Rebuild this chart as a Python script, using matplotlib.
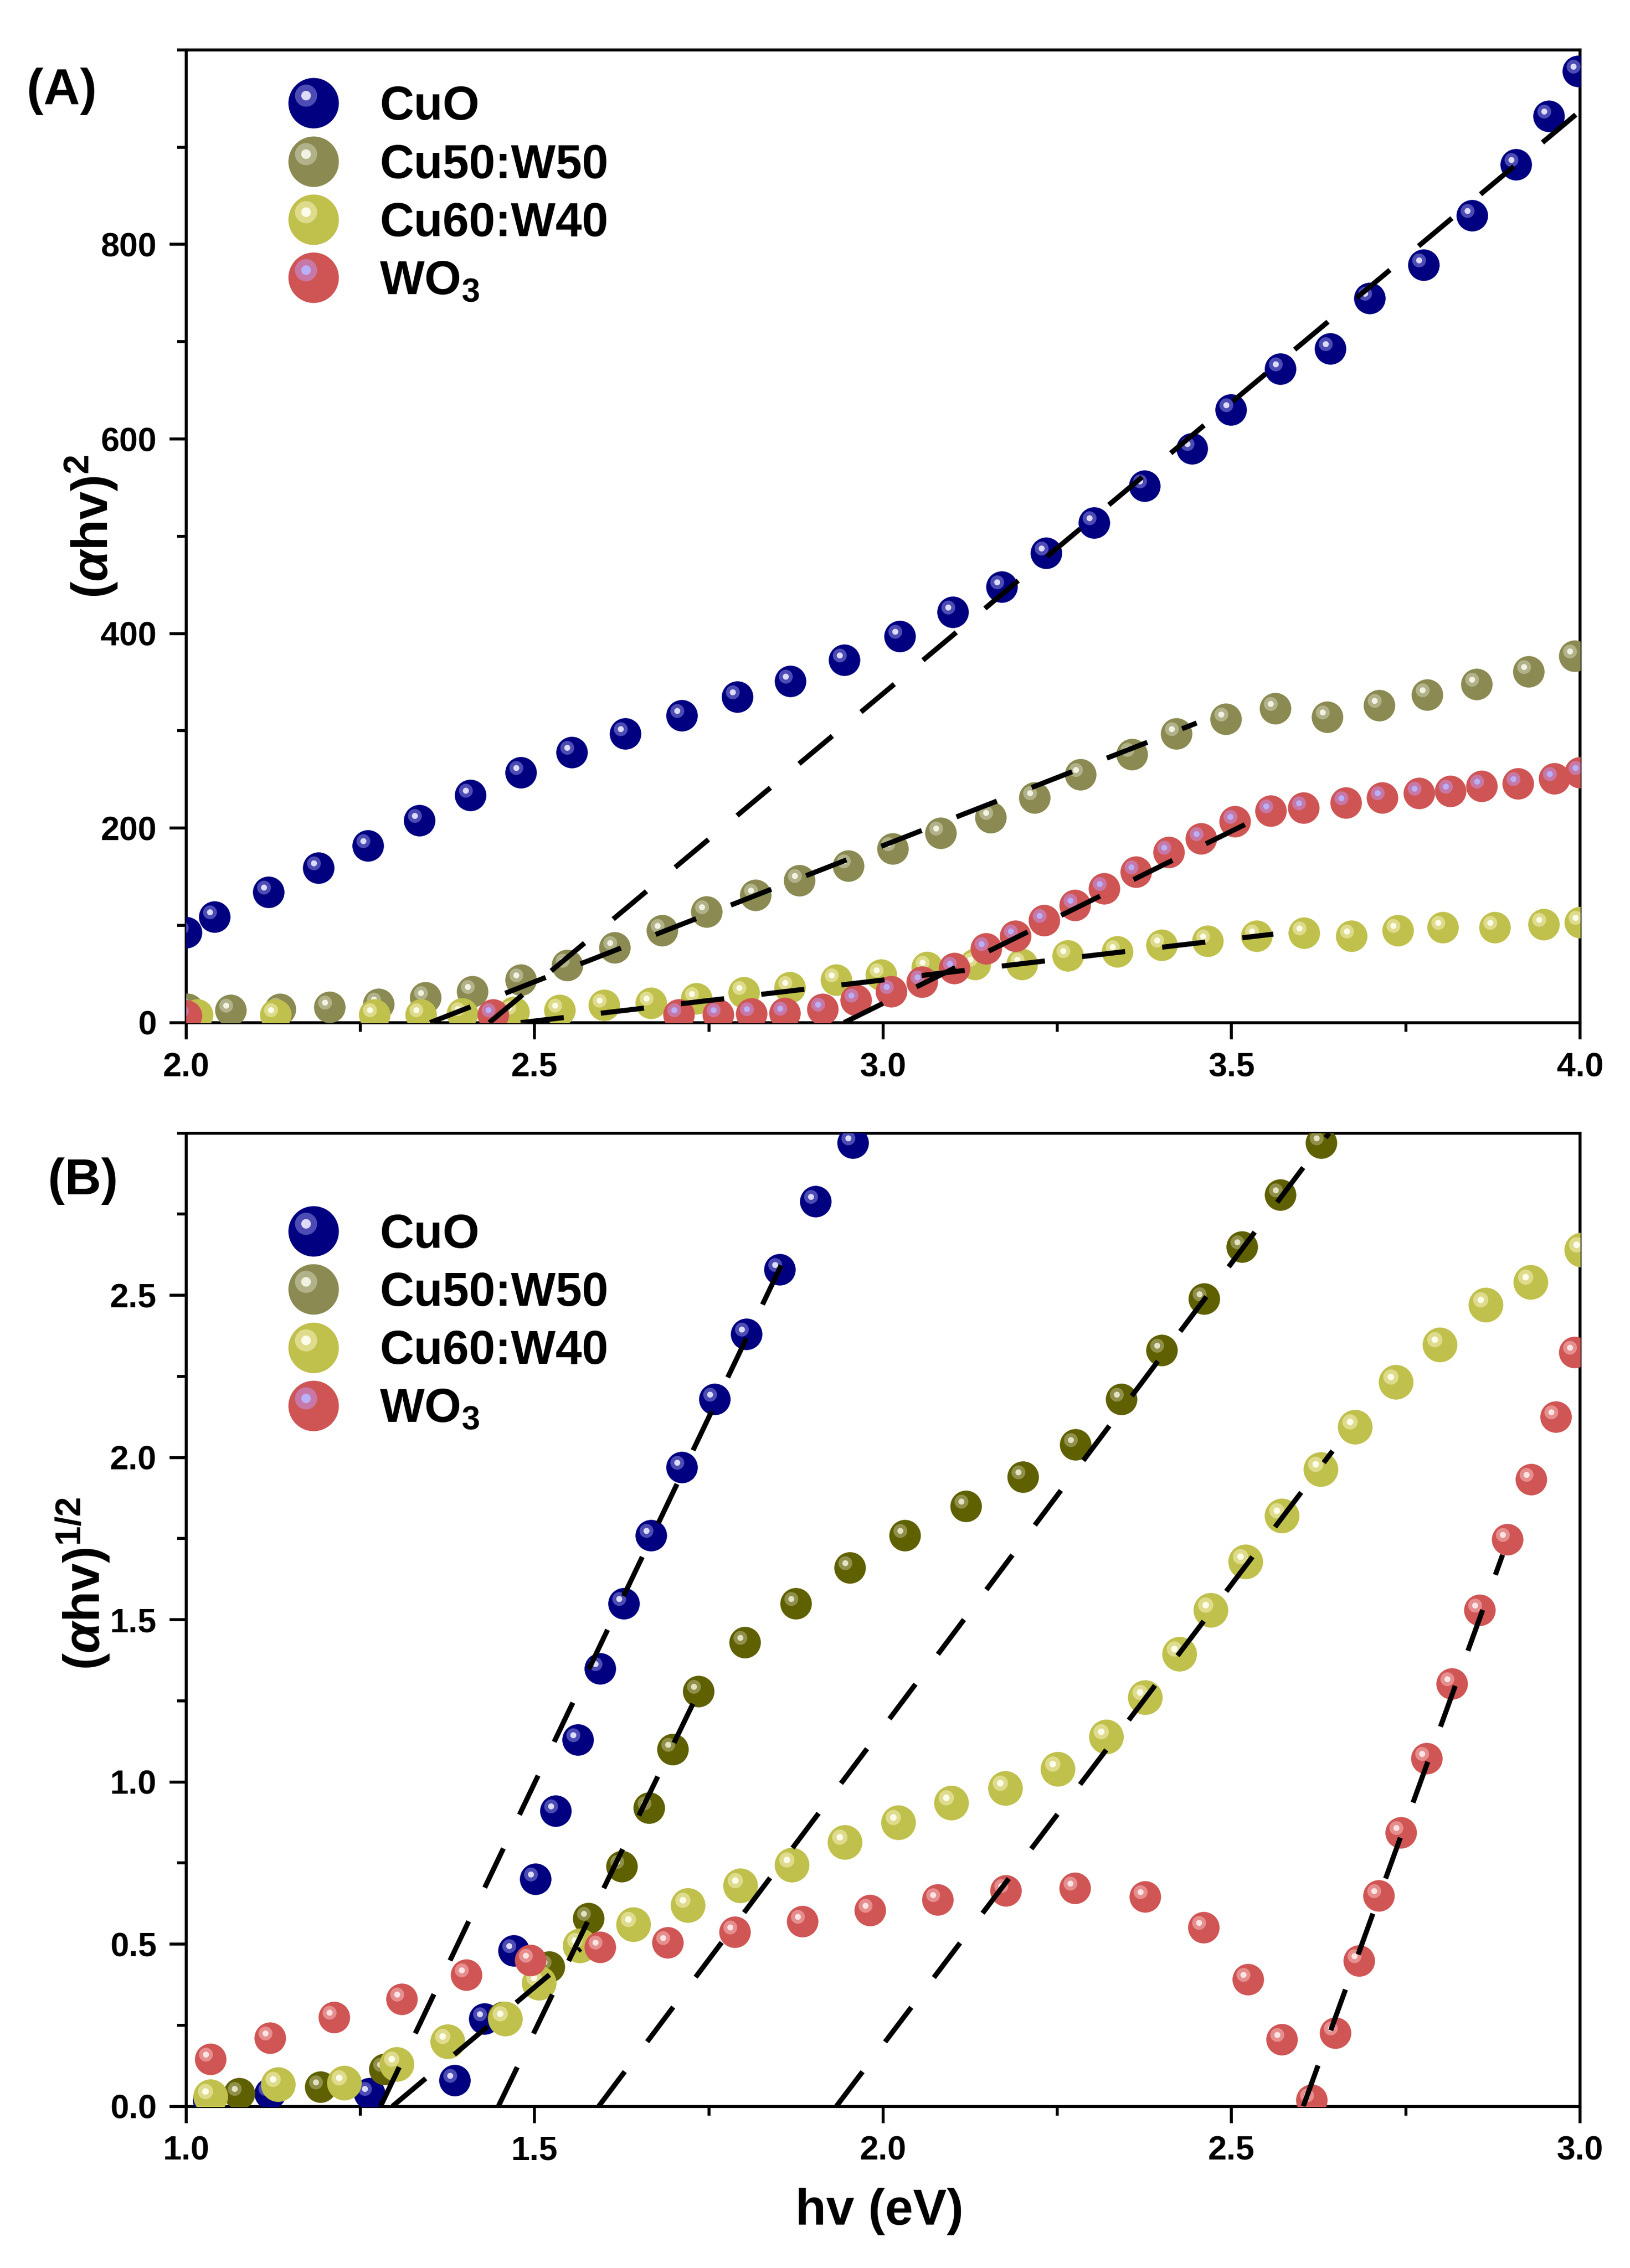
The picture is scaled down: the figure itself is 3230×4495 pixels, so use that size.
import numpy as np
import matplotlib
matplotlib.use("Agg")
import matplotlib.pyplot as plt
from matplotlib.path import Path
from matplotlib.lines import Line2D
from matplotlib.legend_handler import HandlerTuple
from matplotlib.ticker import MultipleLocator, FormatStrFormatter

plt.rcParams['font.family'] = ['Liberation Sans', 'DejaVu Sans']
plt.rcParams['font.weight'] = 'bold'
plt.rcParams['mathtext.fontset'] = 'custom'
plt.rcParams['mathtext.rm'] = 'Liberation Sans'
plt.rcParams['mathtext.bf'] = 'Liberation Sans:bold'
plt.rcParams['mathtext.it'] = 'Liberation Sans:italic'

# ---------------- panel A : (ahv)^2 ----------------
a_cuo_x = [2.000, 2.041, 2.118, 2.190, 2.261, 2.335, 2.408, 2.480, 2.553, 2.630,
           2.711, 2.791, 2.867, 2.944, 3.024, 3.100, 3.170, 3.234, 3.303, 3.375,
           3.443, 3.499, 3.570, 3.642, 3.698, 3.776, 3.845, 3.908, 3.955, 3.997]
a_cuo_y = [93, 109, 134, 159, 182, 208, 234, 257, 278, 297,
           316, 335, 351, 373, 397, 422, 448, 483, 514, 552,
           590, 630, 672, 693, 745, 779, 830, 882, 932, 978]

a_cu50_x = [2.002, 2.064, 2.135, 2.206, 2.276, 2.343, 2.411, 2.480, 2.547, 2.615,
            2.683, 2.747, 2.817, 2.880, 2.950, 3.014, 3.083, 3.154, 3.217, 3.283,
            3.357, 3.421, 3.492, 3.563, 3.637, 3.712, 3.781, 3.852, 3.926, 3.992]
a_cu50_y = [14, 13, 14, 16, 19, 26, 32, 44, 59, 77,
            95, 114, 131, 146, 161, 179, 195, 211, 231, 255,
            276, 297, 312, 323, 314, 326, 337, 348, 361, 377]

a_cu60_x = [2.016, 2.128, 2.270, 2.337, 2.396, 2.470, 2.536, 2.600, 2.667, 2.732,
            2.800, 2.866, 2.933, 2.997, 3.063, 3.132, 3.199, 3.265, 3.336, 3.400,
            3.466, 3.536, 3.604, 3.672, 3.739, 3.803, 3.878, 3.948, 4.000]
a_cu60_y = [8, 8, 8, 8, 9, 11, 13, 18, 20, 25,
            31, 36, 44, 49, 57, 60, 60, 69, 73, 80,
            84, 89, 92, 89, 95, 98, 98, 101, 103]

a_wo3_x = [2.000, 2.440, 2.707, 2.763, 2.811, 2.859, 2.913, 2.961, 3.012, 3.056,
           3.102, 3.148, 3.190, 3.231, 3.275, 3.317, 3.363, 3.410, 3.456, 3.505,
           3.556, 3.603, 3.664, 3.716, 3.769, 3.814, 3.859, 3.911, 3.963, 4.000]
a_wo3_y = [7, 8, 8, 8, 9, 10, 14, 23, 32, 42,
           56, 76, 89, 105, 121, 138, 155, 175, 189, 207,
           218, 221, 226, 231, 236, 238, 243, 246, 251, 257]

# linear fits (end points)
a_fit_cuo = ([2.435, 4.00], [0, 937])
a_fit_cu50 = ([2.350, 3.45], [0, 308])
a_fit_cu60 = ([2.480, 3.56], [0, 91])
a_fit_wo3 = ([2.944, 3.54], [0, 211])

# ---------------- panel B : (ahv)^1/2 ----------------
b_cuo_x = [1.032, 1.120, 1.263, 1.385, 1.428, 1.470, 1.501, 1.530, 1.562, 1.594,
           1.628, 1.667, 1.711, 1.758, 1.804, 1.852, 1.903, 1.957]
b_cuo_y = [0.02, 0.04, 0.04, 0.08, 0.27, 0.48, 0.70, 0.91, 1.13, 1.35,
           1.55, 1.76, 1.97, 2.18, 2.38, 2.58, 2.79, 2.97]

b_cu50_x = [1.076, 1.193, 1.285, 1.373, 1.455, 1.521, 1.577, 1.625, 1.664, 1.698,
            1.735, 1.802, 1.875, 1.952, 2.031, 2.119, 2.201, 2.276, 2.342, 2.400,
            2.461, 2.515, 2.570, 2.629]
b_cu50_y = [0.04, 0.06, 0.115, 0.20, 0.275, 0.43, 0.58, 0.74, 0.92, 1.10,
            1.28, 1.43, 1.55, 1.66, 1.76, 1.85, 1.94, 2.04, 2.18, 2.33,
            2.49, 2.65, 2.81, 2.97]

b_cu60_x = [1.035, 1.132, 1.227, 1.302, 1.375, 1.458, 1.506, 1.565, 1.642, 1.720,
            1.795, 1.869, 1.945, 2.022, 2.098, 2.175, 2.251, 2.320, 2.376, 2.425,
            2.470, 2.520, 2.572, 2.628, 2.677, 2.736, 2.799, 2.865, 2.929, 3.002]
b_cu60_y = [0.03, 0.067, 0.072, 0.13, 0.20, 0.27, 0.38, 0.495, 0.56, 0.62,
            0.68, 0.745, 0.815, 0.875, 0.935, 0.98, 1.04, 1.14, 1.26, 1.394,
            1.53, 1.679, 1.821, 1.964, 2.094, 2.233, 2.348, 2.47, 2.54, 2.64]

b_wo3_x = [1.035, 1.120, 1.212, 1.309, 1.402, 1.494, 1.594, 1.691, 1.787, 1.884,
           1.981, 2.078, 2.176, 2.275, 2.376, 2.460, 2.524, 2.572, 2.615, 2.649,
           2.683, 2.711, 2.743, 2.780, 2.816, 2.856, 2.896, 2.930, 2.965, 2.992]
b_wo3_y = [0.145, 0.21, 0.275, 0.33, 0.405, 0.45, 0.49, 0.505, 0.537, 0.57,
           0.605, 0.637, 0.665, 0.673, 0.646, 0.552, 0.391, 0.206, 0.019, 0.226,
           0.449, 0.649, 0.844, 1.072, 1.303, 1.529, 1.748, 1.933, 2.125, 2.325]

b_fits = [([1.279, 1.871], [0, 2.67]),
          ([1.448, 1.745], [0, 1.32]),
          ([1.592, 2.640], [0, 3.00]),
          ([1.296, 1.566], [0, 0.486]),
          ([1.933, 2.645], [0, 2.02]),
          ([2.603, 2.889], [0, 1.70])]

labels = ['CuO', 'Cu50:W50', 'Cu60:W40', 'WO$_{3}$']

# colours: base, mid highlight, bright spot
c_cuo = ('#000080', '#4c4cb4', '#dcdcf8')
c_cu50a = ('#8a8a52', '#b2b28a', '#f2f2e2')
c_cu50b = ('#5f6000', '#90904a', '#e2e2c4')
c_cu60 = ('#c0c04c', '#dedc8c', '#fcfcea')
c_wo3a = ('#cf5555', '#c878a6', '#b8b0f8')
c_wo3b = ('#d05555', '#e68e8e', '#fce4e4')


def spot(cx, cy, r):
    t = np.linspace(0, 2 * np.pi, 49)
    v = np.column_stack([cx + r * np.cos(t), cy + r * np.sin(t)])
    codes = [Path.MOVETO] + [Path.LINETO] * 47 + [Path.CLOSEPOLY]
    return Path(v, codes), np.abs(v).max()


HL1, HL1_K = spot(-0.30, 0.30, 0.44)
HL2, HL2_K = spot(-0.30, 0.30, 0.19)


def sphere(ax, x, y, cols, ms, z):
    ax.plot(x, y, ls='none', marker='o', ms=ms, mfc=cols[0], mec='none', zorder=z)
    ax.plot(x, y, ls='none', marker=HL1, ms=ms * HL1_K, mfc=cols[1], mec='none', zorder=z)
    ax.plot(x, y, ls='none', marker=HL2, ms=ms * HL2_K, mfc=cols[2], mec='none', zorder=z)


def handle(cols, ms=24):
    return (Line2D([], [], ls='none', marker='o', ms=ms, mfc=cols[0], mec='none'),
            Line2D([], [], ls='none', marker=HL1, ms=ms * HL1_K, mfc=cols[1], mec='none'),
            Line2D([], [], ls='none', marker=HL2, ms=ms * HL2_K, mfc=cols[2], mec='none'))


def fit_line(ax, pts):
    ax.plot(pts[0], pts[1], color='k', lw=2.4, dashes=(8.6, 7.4), zorder=10)


def style(ax):
    for s in ax.spines.values():
        s.set_linewidth(1.4)
    ax.tick_params(which='major', direction='out', length=8, width=1.4,
                   labelsize=16, pad=6, top=False, right=False)
    ax.tick_params(which='minor', direction='out', length=4.3, width=1.4,
                   top=False, right=False)


fig = plt.figure(figsize=(3230 / 300, 4495 / 300), dpi=300)
ax_a = fig.add_axes([0.1142, 0.5491, 0.8551, 0.4289])
ax_b = fig.add_axes([0.1142, 0.0713, 0.8551, 0.4291])

# panel A
sphere(ax_a, a_cuo_x, a_cuo_y, c_cuo, 15, 3)
sphere(ax_a, a_cu50_x, a_cu50_y, c_cu50a, 15, 4)
sphere(ax_a, a_cu60_x, a_cu60_y, c_cu60, 15, 5)
sphere(ax_a, a_wo3_x, a_wo3_y, c_wo3a, 15, 6)
for f in (a_fit_cuo, a_fit_cu50, a_fit_cu60, a_fit_wo3):
    fit_line(ax_a, f)
ax_a.set_xlim(2.0, 4.0)
ax_a.set_ylim(0, 1000)
ax_a.set_xticks([2.0, 2.5, 3.0, 3.5, 4.0])
ax_a.set_yticks([0, 200, 400, 600, 800])
ax_a.xaxis.set_minor_locator(MultipleLocator(0.25))
ax_a.yaxis.set_minor_locator(MultipleLocator(100))
ax_a.xaxis.set_major_formatter(FormatStrFormatter('%.1f'))
style(ax_a)

# panel B
sphere(ax_b, b_cuo_x, b_cuo_y, c_cuo, 15, 3)
sphere(ax_b, b_cu50_x, b_cu50_y, c_cu50b, 15, 4)
sphere(ax_b, b_cu60_x, b_cu60_y, c_cu60, 16.5, 5)
sphere(ax_b, b_wo3_x, b_wo3_y, c_wo3b, 15, 6)
for f in b_fits:
    fit_line(ax_b, f)
ax_b.set_xlim(1.0, 3.0)
ax_b.set_ylim(0, 3.0)
ax_b.set_xticks([1.0, 1.5, 2.0, 2.5, 3.0])
ax_b.set_yticks([0.0, 0.5, 1.0, 1.5, 2.0, 2.5])
ax_b.xaxis.set_minor_locator(MultipleLocator(0.25))
ax_b.yaxis.set_minor_locator(MultipleLocator(0.25))
ax_b.xaxis.set_major_formatter(FormatStrFormatter('%.1f'))
ax_b.yaxis.set_major_formatter(FormatStrFormatter('%.1f'))
style(ax_b)

legend_cols = [c_cuo, c_cu50a, c_cu60, c_wo3a]
for ax, ytop in ((ax_a, 0.964), (ax_b, 0.918)):
    ax.legend([handle(c) for c in legend_cols], labels, loc='upper left',
              bbox_to_anchor=(0.0573, ytop), frameon=False, fontsize=22.5,
              handlelength=2.0, handletextpad=0.40, labelspacing=0.28,
              borderpad=0, borderaxespad=0,
              handler_map={tuple: HandlerTuple(ndivide=1)})

fig.text(0.0378, 0.9597, '(A)', fontsize=24, ha='center', va='center')
fig.text(0.0508, 0.4792, '(B)', fontsize=24, ha='center', va='center')
fig.text(0.0564, 0.7677, r'($\alpha$hv)$^{2}$', fontsize=24, rotation=90,
         ha='center', va='center')
fig.text(0.0508, 0.3017, r'($\alpha$hv)$^{1/2}$', fontsize=24, rotation=90,
         ha='center', va='center')
fig.text(0.5396, 0.0250, 'hv (eV)', fontsize=24, ha='center', va='center')

fig.savefig('out.png', dpi=300)
